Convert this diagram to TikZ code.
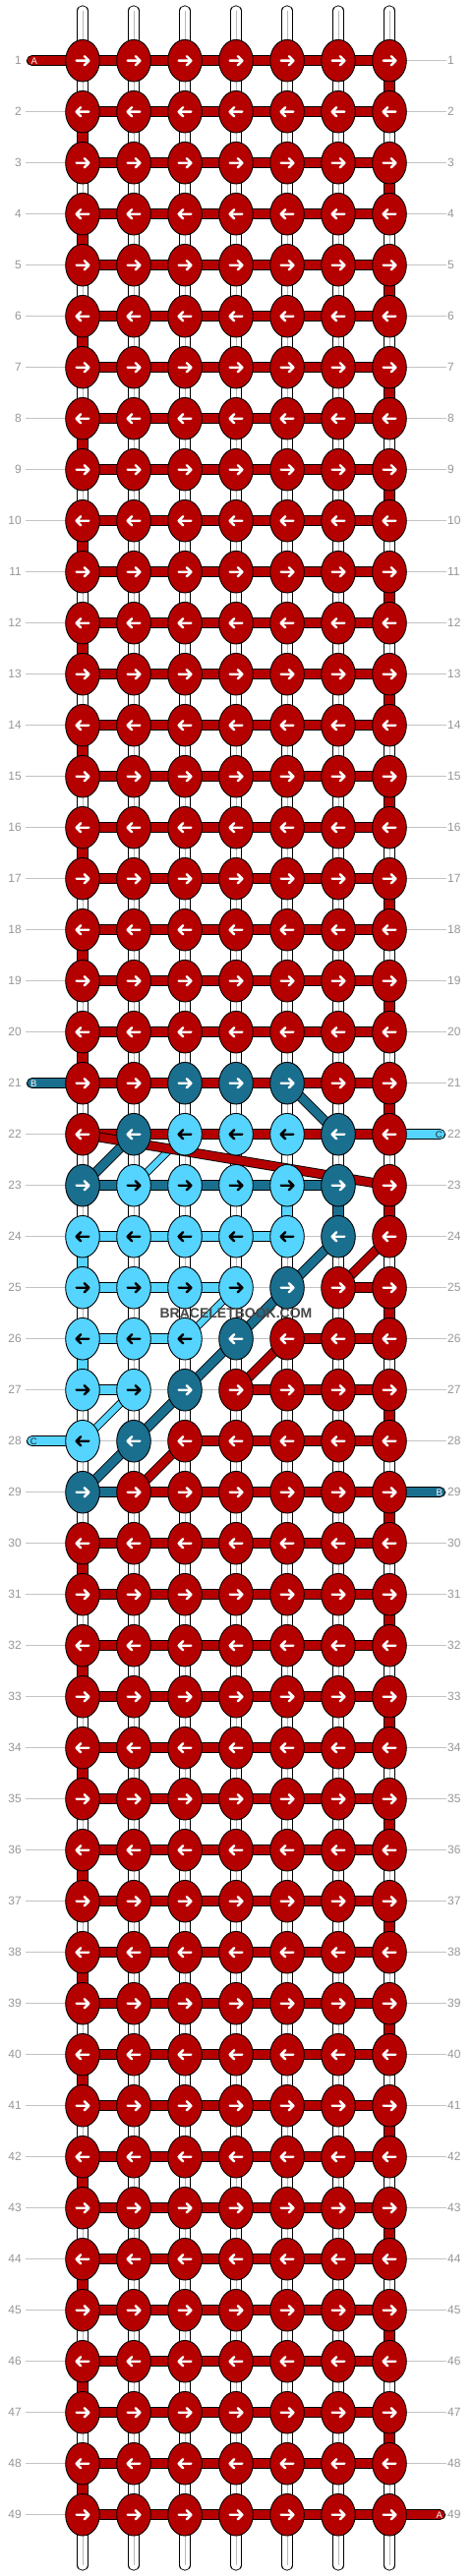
\documentclass[tikz,border=0pt]{standalone}
\usepackage{fontspec}
\setmainfont{Liberation Sans}
\usetikzlibrary{shapes.geometric}
\definecolor{kR}{RGB}{181,0,0}
\definecolor{kD}{RGB}{26,111,143}
\definecolor{kL}{RGB}{85,212,255}
\colorlet{aR}{white}
\colorlet{aD}{white}
\colorlet{aL}{black}
\definecolor{labgray}{RGB}{150,150,150}
\definecolor{linegray}{RGB}{195,195,195}
\pgfdeclarelayer{lgrid}
\pgfdeclarelayer{lthread}
\pgfdeclarelayer{lbar}
\pgfdeclarelayer{ldiag}
\pgfsetlayers{lgrid,lthread,lbar,ldiag,main}
\tikzset{
 knot/.style={ellipse, draw=black, line width=0.9pt, minimum width=34.6pt, minimum height=42.6pt, inner sep=0pt},
 arrowright/.pic={\draw[line width=2.4pt, line cap=round, line join=round, pic actions] (-6.3,0) -- (6.4,0) (1.8,-4.6) -- (6.4,0) -- (1.8,4.6);},
 arrowleft/.pic={\draw[line width=2.4pt, line cap=round, line join=round, pic actions] (6.3,0) -- (-6.4,0) (-1.8,-4.6) -- (-6.4,0) -- (-1.8,4.6);},
 thread/.style={draw=black, line width=0.9pt, double=white, double distance=9.4pt, line cap=round},
 threadmid/.style={draw=black!28, line width=0.9pt},
 band/.style={draw=black, line width=0.9pt, double=#1, double distance=9.4pt},
 tab/.style={band=#1, line cap=round},
 diag/.style={draw=black, line width=0.9pt, double=#1, double distance=8.2pt},
 ldiag/.style={draw=black, line width=0.9pt, double=kL, double distance=6.2pt},
 rowline/.style={draw=linegray, line width=1pt},
 lab/.style={text=labgray, font=\fontsize{12}{12}\selectfont, inner sep=0pt},
 tabtext/.style={font=\fontsize{9.5}{9.5}\selectfont, inner sep=0pt},
}
\begin{document}
\begin{tikzpicture}[x=1pt,y=-1pt]
\useasboundingbox (0,0) rectangle (480,2620);
% knots, labels, row lines
\foreach \r in {1,...,49}{
  \ifnum\r<21 \def\cols{R,R,R,R,R,R,R}\else
  \ifnum\r>29 \def\cols{R,R,R,R,R,R,R}\else
  \ifcase\numexpr\r-21\relax
    \def\cols{R,R,D,D,D,R,R}\or
    \def\cols{R,D,L,L,L,D,R}\or
    \def\cols{D,L,L,L,L,D,R}\or
    \def\cols{L,L,L,L,L,D,R}\or
    \def\cols{L,L,L,L,D,R,R}\or
    \def\cols{L,L,L,D,R,R,R}\or
    \def\cols{L,L,D,R,R,R,R}\or
    \def\cols{L,D,R,R,R,R,R}\or
    \def\cols{D,R,R,R,R,R,R}\fi\fi\fi
  \pgfmathsetmacro\yy{61.7+52*(\r-1)}
  \node[lab, anchor=east] (ll-\r) at (22,\yy) {\r};
  \node[lab, anchor=west] (rl-\r) at (455,\yy) {\r};
  \begin{pgfonlayer}{lgrid}
  \draw[rowline] ([xshift=4pt]ll-\r.east) -- ([xshift=-1pt]rl-\r.west);
  \end{pgfonlayer}
  \foreach \k [count=\c] in \cols {
    \pgfmathsetmacro\xx{84+52*(\c-1)}
    \node[knot, fill=k\k] (n-\r-\c) at (\xx,\yy) {};
    \ifodd\r\relax
      \pic[color=a\k] at (n-\r-\c) {arrowright};
    \else
      \pic[color=a\k] at (n-\r-\c) {arrowleft};
    \fi
  }
}
% base threads
\begin{pgfonlayer}{lthread}
\foreach \c in {1,...,7}{
  \pgfmathsetmacro\xx{84+52*(\c-1)}
  \coordinate (top-\c) at (\xx,11);
  \coordinate (bot-\c) at (\xx,2609);
  \draw[thread] (top-\c) -- (bot-\c);
  \draw[threadmid] (top-\c) -- (bot-\c);
}
\end{pgfonlayer}
% vertical turns and horizontal bars
\begin{pgfonlayer}{lbar}
\foreach \r in {1,3,...,47}{
  \pgfmathtruncatemacro\rr{\r+1}
  \draw[band=kR] (n-\r-7.center) -- (n-\rr-7.center);
}
\foreach \r in {2,4,...,20}{
  \pgfmathtruncatemacro\rr{\r+1}
  \draw[band=kR] (n-\r-1.center) -- (n-\rr-1.center);
}
\foreach \r in {30,32,...,48}{
  \pgfmathtruncatemacro\rr{\r+1}
  \draw[band=kR] (n-\r-1.center) -- (n-\rr-1.center);
}
\draw[band=kL] (n-24-1.center) -- (n-25-1.center);
\draw[band=kL] (n-26-1.center) -- (n-27-1.center);
\draw[band=kL] (n-23-5.center) -- (n-24-5.center);
\draw[band=kD] (n-23-6.center) -- (n-24-6.center);
\foreach \r in {1,...,22}{
  \foreach \c in {1,...,6}{
    \pgfmathtruncatemacro\cc{\c+1}
    \draw[band=kR] (n-\r-\c.center) -- (n-\r-\cc.center);
  }
}
\foreach \r in {30,...,49}{
  \foreach \c in {1,...,6}{
    \pgfmathtruncatemacro\cc{\c+1}
    \draw[band=kR] (n-\r-\c.center) -- (n-\r-\cc.center);
  }
}
\foreach \r/\c/\k in {23/1/D,23/2/D,23/3/D,23/4/D,23/5/D,
  24/1/L,24/2/L,24/3/L,24/4/L,
  25/1/L,25/2/L,25/3/L,25/6/R,
  26/1/L,26/2/L,26/5/R,26/6/R,
  27/1/L,27/4/R,27/5/R,27/6/R,
  28/3/R,28/4/R,28/5/R,28/6/R,
  29/1/D,29/2/R,29/3/R,29/4/R,29/5/R,29/6/R}{
  \pgfmathtruncatemacro\cc{\c+1}
  \draw[band=k\k] (n-\r-\c.center) -- (n-\r-\cc.center);
}
% end tabs
\coordinate (tA1) at (32.6,61.7);
\coordinate (tB1) at (32.6,1101.7);
\coordinate (tC1) at (447.4,1153.7);
\coordinate (tC2) at (32.6,1465.7);
\coordinate (tB2) at (447.4,1517.7);
\coordinate (tA2) at (447.4,2557.7);
\draw[tab=kR] (tA1) -- (n-1-1.center);
\draw[tab=kD] (tB1) -- (n-21-1.center);
\draw[tab=kL] (n-22-7.center) -- (tC1);
\draw[tab=kL] (tC2) -- (n-28-1.center);
\draw[tab=kD] (n-29-7.center) -- (tB2);
\draw[tab=kR] (n-49-7.center) -- (tA2);
\end{pgfonlayer}
% diagonals
\begin{pgfonlayer}{ldiag}
\draw[diag=kD] (n-21-5.center) -- (n-22-6.center);
\draw[diag=kD] (n-22-2.center) -- (n-23-1.center);
\draw[diag=kD] (n-24-6.center) -- (n-25-5.center) -- (n-26-4.center) -- (n-27-3.center) -- (n-28-2.center) -- (n-29-1.center);
\draw[ldiag] (n-22-3.center) -- (n-23-2.center);
\draw[ldiag] (n-25-4.center) -- (n-26-3.center);
\draw[ldiag] (n-27-2.center) -- (n-28-1.center);
\draw[diag=kR] (n-22-1.center) -- (n-23-7.center);
\draw[diag=kR] (n-24-7.center) -- (n-25-6.center);
\draw[diag=kR] (n-26-5.center) -- (n-27-4.center);
\draw[diag=kR] (n-28-3.center) -- (n-29-2.center);
\end{pgfonlayer}
% tab letters
\node[tabtext, text=white] (lA1) at (34.7,62.2) {A};
\node[tabtext, text=white] (lB1) at (34.4,1102.2) {B};
\node[tabtext, text=black!85] (lC1) at (446.3,1154.2) {C};
\node[tabtext, text=black!85] (lC2) at (34.2,1466.2) {C};
\node[tabtext, text=white] (lB2) at (446.7,1518.2) {B};
\node[tabtext, text=white] (lA2) at (446.7,2558.2) {A};
% watermark
\node[font=\bfseries\fontsize{14}{14}\selectfont, text=black!72, inner sep=0pt] (wm) at (240,1336) {BRACELETBOOK.COM};
\end{tikzpicture}
\end{document}
